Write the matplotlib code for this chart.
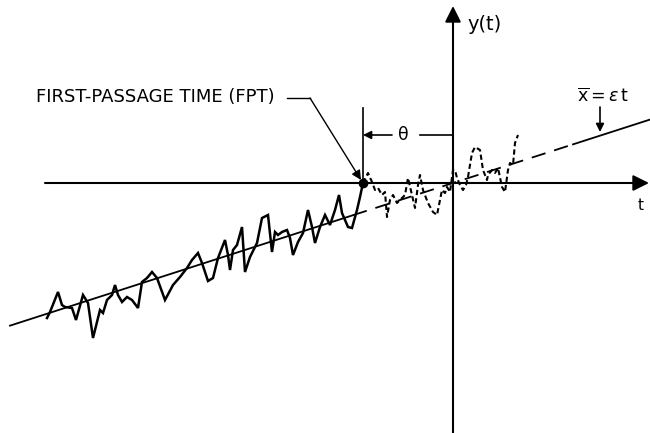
import matplotlib
matplotlib.use("Agg")
import matplotlib.pyplot as plt

# sample path before the first passage (solid), time t and level y
path_t = [-406, -403, -395, -391, -388, -381, -377, -370, -365, -360, -353, -350,
          -346, -341, -338, -335, -331, -326, -321, -315, -311, -306, -301, -296,
          -288, -280, -273, -266, -261, -255, -251, -245, -240, -235, -228, -225,
          -223, -220, -216, -211, -208, -203, -196, -191, -185, -181, -178, -175,
          -171, -166, -163, -160, -155, -150, -145, -141, -138, -133, -128, -123,
          -118, -114, -111, -105, -101, -96, -93, -90]
path_y = [-135, -129, -109, -122, -124, -125, -137, -112, -120, -155, -127, -130,
          -117, -112, -102, -112, -119, -114, -117, -125, -99, -95, -89, -95,
          -117, -102, -94, -85, -77, -70, -80, -98, -95, -75, -57, -72,
          -87, -67, -62, -44, -89, -74, -60, -35, -32, -69, -49, -52,
          -49, -47, -55, -72, -59, -50, -27, -44, -60, -44, -32, -42,
          -27, -12, -30, -44, -45, -27, -14, 0]

# continuation after the first passage (dashed)
cont_t = [-90, -85, -81, -78, -75, -71, -68, -66, -63, -60, -56, -53, -48, -45,
          -41, -38, -35, -33, -30, -25, -20, -16, -13, -11, -8, -6, -3, 0, 2, 4,
          7, 10, 13, 15, 19, 22, 27, 30, 34, 35, 39, 42, 45, 49, 52, 55, 57, 60,
          62, 65]
cont_y = [0, 10, 1, -7, -5, -12, -9, -34, -17, -12, -20, -17, -12, 5,
          -12, -25, -2, 8, -7, -20, -29, -32, -17, -7, -10, -4, -9, 13, 13, 5,
          -2, -7, -2, 6, 30, 36, 33, 13, 3, 8, 13, 10, 15, -4, -9, 13, 20, 18,
          40, 48]

EPS = 0.322          # slope of the mean drift line
FPT = -90            # first passage time
MEAN_SOLID_1 = [-443, -100]
MEAN_DASHED = [-100, 120]
MEAN_SOLID_2 = [120, 197]

plt.rcParams["mathtext.fontset"] = "dejavusans"

fig = plt.figure(figsize=(6.5, 4.33), dpi=100)
ax = fig.add_axes([0, 0, 1, 1])
ax.set_xlim(-453, 197)
ax.set_ylim(-250, 183)
ax.axis("off")

ink = "black"

# axes with arrow heads
ax.annotate("", xy=(196, 0), xytext=(-408, 0),
            arrowprops=dict(arrowstyle="-|>", mutation_scale=24, lw=1.5, color=ink,
                            shrinkA=0, shrinkB=0))
ax.annotate("", xy=(0, 177), xytext=(0, -252),
            arrowprops=dict(arrowstyle="-|>", mutation_scale=24, lw=1.5, color=ink,
                            shrinkA=0, shrinkB=0))
ax.text(188, -22, "t", fontsize=11, ha="center", va="center")
ax.text(32, 159, "y(t)", fontsize=14, ha="center", va="center")

# mean line x = eps t
for seg, ls in [(MEAN_SOLID_1, "-"), (MEAN_DASHED, (0, (8, 5))), (MEAN_SOLID_2, "-")]:
    ax.plot(seg, [EPS * v for v in seg], color=ink, lw=1.3, linestyle=ls)

# sample path
ax.plot(path_t, path_y, color=ink, lw=1.8, solid_joinstyle="miter")
ax.plot(cont_t, cont_y, color=ink, lw=1.5, linestyle=(0, (2.5, 1.5)))
ax.plot([FPT], [0], "o", color=ink, markersize=6)

# theta marker
ax.plot([FPT, FPT], [0, 75], color=ink, lw=1.2)
ax.annotate("", xy=(FPT, 48), xytext=(-61, 48),
            arrowprops=dict(arrowstyle="-|>", mutation_scale=12, lw=1.2, color=ink,
                            shrinkA=0, shrinkB=0))
ax.plot([-33, 0], [48, 48], color=ink, lw=1.2)
ax.text(-50, 48, "θ", fontsize=12.5, ha="center", va="center")

# first-passage label
ax.text(-178, 86, "FIRST-PASSAGE TIME (FPT)", fontsize=13, ha="right", va="center")
ax.plot([-166, -143], [85, 85], color=ink, lw=1.0)
ax.annotate("", xy=(FPT - 2, 3), xytext=(-143, 85),
            arrowprops=dict(arrowstyle="-|>", mutation_scale=14, lw=1.0, color=ink,
                            shrinkA=0, shrinkB=0))

# mean label
ax.text(150, 86, r"$\overline{\mathrm{x}} = \epsilon\, \mathrm{t}$", fontsize=12.5,
        ha="center", va="center")
ax.annotate("", xy=(147, 51), xytext=(147, 76),
            arrowprops=dict(arrowstyle="-|>", mutation_scale=12, lw=1.2, color=ink,
                            shrinkA=0, shrinkB=0))

fig.savefig("out.png", dpi=100)
